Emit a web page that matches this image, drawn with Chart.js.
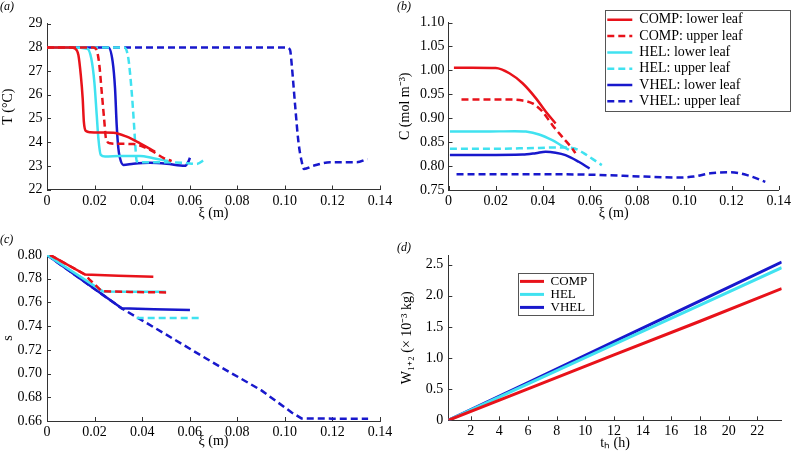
<!DOCTYPE html>
<html><head><meta charset="utf-8">
<script src="https://cdn.jsdelivr.net/npm/chart.js@4.4.1/dist/chart.umd.min.js"></script>
<style>
html,body{margin:0;padding:0;background:#fff;width:794px;height:456px;overflow:hidden}
canvas{position:absolute}
</style></head><body>
<canvas id="ca" width="397" height="225" style="left:0;top:0"></canvas>
<canvas id="cb" width="397" height="225" style="left:397px;top:0"></canvas>
<canvas id="cc" width="397" height="228" style="left:0;top:228px"></canvas>
<canvas id="cd" width="397" height="228" style="left:397px;top:228px"></canvas>
<script>
// ---------- tick values and labels ----------
const xiTicks = [0, 0.02, 0.04, 0.06, 0.08, 0.10, 0.12, 0.14];
const xiTickLabels = ['0', '0.02', '0.04', '0.06', '0.08', '0.10', '0.12', '0.14'];
const tTicks = [22, 23, 24, 25, 26, 27, 28, 29];
const tTickLabels = ['22', '23', '24', '25', '26', '27', '28', '29'];
const cTicks = [0.75, 0.80, 0.85, 0.90, 0.95, 1.00, 1.05, 1.10];
const cTickLabels = ['0.75', '0.80', '0.85', '0.90', '0.95', '1.00', '1.05', '1.10'];
const sTicks = [0.66, 0.68, 0.70, 0.72, 0.74, 0.76, 0.78, 0.80];
const sTickLabels = ['0.66', '0.68', '0.70', '0.72', '0.74', '0.76', '0.78', '0.80'];
const thTicks = [2, 4, 6, 8, 10, 12, 14, 16, 18, 20, 22];
const thTickLabels = ['2', '4', '6', '8', '10', '12', '14', '16', '18', '20', '22'];
const wTicks = [0, 0.5, 1.0, 1.5, 2.0, 2.5];
const wTickLabels = ['0', '0.5', '1.0', '1.5', '2.0', '2.5'];

// ---------- legend labels ----------
const leafLabels = ['COMP: lower leaf', 'COMP: upper leaf', 'HEL: lower leaf', 'HEL: upper leaf', 'VHEL: lower leaf', 'VHEL: upper leaf'];
const modelLabels = ['COMP', 'HEL', 'VHEL'];

// ---------- (a) temperature T vs xi ----------
const aCompLowerX = [0, 0.005, 0.010, 0.0118, 0.0132, 0.0142, 0.0150, 0.0155, 0.0164, 0.0181, 0.0230, 0.0279, 0.0335, 0.0391, 0.0454];
const aCompLowerY = [28, 28, 28, 27.95, 27.68, 26.84, 25.85, 24.86, 24.47, 24.42, 24.41, 24.40, 24.23, 23.95, 23.60];
const aCompUpperX = [0, 0.010, 0.0195, 0.0210, 0.0220, 0.0230, 0.0240, 0.0248, 0.0265, 0.0300, 0.0363, 0.0433, 0.0489, 0.0524];
const aCompUpperY = [28, 28, 28, 27.85, 27.26, 26.13, 25.00, 24.16, 23.95, 23.93, 23.92, 23.67, 23.34, 23.20];
const aHelLowerX = [0, 0.010, 0.0170, 0.0186, 0.0199, 0.0209, 0.0216, 0.0226, 0.0244, 0.0300, 0.0391, 0.0447, 0.0510];
const aHelLowerY = [28, 28, 27.95, 27.54, 26.55, 25.15, 24.16, 23.46, 23.39, 23.41, 23.42, 23.32, 23.20];
const aHelUpperX = [0, 0.015, 0.0325, 0.0342, 0.0356, 0.0366, 0.0373, 0.0377, 0.0400, 0.0500, 0.0580, 0.0629, 0.0664];
const aHelUpperY = [28, 28, 28, 27.54, 26.13, 24.72, 23.60, 23.20, 23.15, 23.15, 23.12, 23.08, 23.27];
const aVhelLowerX = [0, 0.015, 0.0258, 0.0276, 0.0286, 0.0293, 0.0300, 0.0307, 0.0321, 0.0363, 0.0433, 0.0503, 0.0580, 0.0594, 0.0601];
const aVhelLowerY = [28, 28, 28, 27.40, 26.28, 24.72, 23.74, 23.32, 23.04, 23.09, 23.13, 23.09, 23.00, 23.17, 23.34];
const aVhelUpperX = [0, 0.050, 0.1008, 0.1022, 0.1029, 0.1043, 0.1057, 0.1071, 0.1080, 0.1120, 0.1190, 0.1302, 0.1347];
const aVhelUpperY = [28, 28, 28, 27.89, 27.26, 25.57, 24.02, 23.17, 22.87, 23.00, 23.15, 23.15, 23.29];

// ---------- (b) concentration C vs xi ----------
const bCompLowerX = [0.0023, 0.010, 0.020, 0.0258, 0.0314, 0.0370, 0.0412, 0.0454];
const bCompLowerY = [1.0055, 1.0055, 1.005, 0.994, 0.973, 0.942, 0.914, 0.889];
const bCompUpperX = [0.0055, 0.015, 0.025, 0.0314, 0.0356, 0.0398, 0.0440, 0.0482, 0.0524, 0.0538];
const bCompUpperY = [0.939, 0.939, 0.939, 0.937, 0.931, 0.914, 0.886, 0.861, 0.837, 0.827];
const bHelLowerX = [0.0006, 0.015, 0.028, 0.0328, 0.0384, 0.0440, 0.0482, 0.0510];
const bHelLowerY = [0.872, 0.872, 0.873, 0.872, 0.866, 0.854, 0.842, 0.834];
const bHelUpperX = [0.0006, 0.015, 0.030, 0.0384, 0.0454, 0.0524, 0.0573, 0.0610, 0.0650];
const bHelUpperY = [0.836, 0.836, 0.837, 0.838, 0.839, 0.838, 0.827, 0.815, 0.802];
const bVhelLowerX = [0.0006, 0.015, 0.0314, 0.0370, 0.0412, 0.0454, 0.0496, 0.0552, 0.0598];
const bVhelLowerY = [0.823, 0.823, 0.824, 0.827, 0.830, 0.828, 0.823, 0.809, 0.795];
const bVhelUpperX = [0.0034, 0.030, 0.060, 0.083, 0.097, 0.104, 0.111, 0.1196, 0.1266, 0.1343];
const bVhelUpperY = [0.783, 0.783, 0.782, 0.778, 0.776, 0.778, 0.785, 0.787, 0.781, 0.767];

// ---------- (c) s vs xi ----------
const cCompLowerX = [0.0013, 0.0160, 0.0300, 0.0447];
const cCompLowerY = [0.800, 0.7835, 0.7825, 0.7816];
const cCompUpperX = [0.0013, 0.0160, 0.0178, 0.0230, 0.0350, 0.0517];
const cCompUpperY = [0.800, 0.7835, 0.7795, 0.7695, 0.7688, 0.7684];
const cHelLowerX = [0, 0.0235, 0.0350, 0.0500];
const cHelLowerY = [0.800, 0.7693, 0.7690, 0.7690];
const cHelUpperX = [0.0377, 0.0500, 0.0650];
const cHelUpperY = [0.7468, 0.7468, 0.7468];
const cVhelLowerX = [0, 0.0314, 0.0450, 0.0601];
const cVhelLowerY = [0.800, 0.7550, 0.7542, 0.7536];
const cVhelUpperX = [0, 0.0314, 0.050, 0.070, 0.090, 0.103, 0.107, 0.120, 0.135];
const cVhelUpperY = [0.800, 0.755, 0.733, 0.709, 0.686, 0.667, 0.6622, 0.6620, 0.6620];

// ---------- (d) W vs t_h ----------
const dHours = [0.44, 6, 12, 18, 23.7];
const dComp = [0, 0.505, 1.05, 1.59, 2.115];
const dHel = [0, 0.586, 1.217, 1.849, 2.45];
const dVhel = [0, 0.607, 1.262, 1.918, 2.54];

// ---------- styling ----------
const RED = '#e8121a', CYAN = '#40e2f0', BLUE = '#1818cc';
const AXIS = '#333333';
const FONT = 'Liberation Serif, Times New Roman, serif';

function series(label, xs, ys, color, dashed, width, smooth) {
  return {
    label: label,
    data: xs.map((x, i) => ({x: x, y: ys[i]})),
    showLine: true,
    borderColor: color,
    backgroundColor: color,
    borderWidth: width,
    borderDash: dashed ? [7, 4] : [],
    pointRadius: 0,
    pointHoverRadius: 0,
    tension: 0,
    cubicInterpolationMode: smooth ? 'monotone' : 'default'
  };
}

const inwardTicks = {
  id: 'inwardTicks',
  beforeDatasetsDraw(chart, args, opts) {
    const ctx = chart.ctx;
    const {left, bottom} = chart.chartArea;
    const xs = chart.scales.x, ys = chart.scales.y;
    ctx.save();
    ctx.strokeStyle = AXIS;
    ctx.lineWidth = 1;
    ctx.beginPath();
    xs.ticks.forEach(t => {
      const px = Math.round(xs.getPixelForValue(t.value)) + 0.5;
      ctx.moveTo(px, bottom); ctx.lineTo(px, bottom - 4);
    });
    ys.ticks.forEach(t => {
      const py = Math.round(ys.getPixelForValue(t.value)) + 0.5;
      ctx.moveTo(left, py); ctx.lineTo(left + 4, py);
    });
    ctx.stroke();
    ctx.restore();
  }
};

const legendFrame = {
  id: 'legendFrame',
  afterLayout(chart, args, opts) {
    const lg = chart.legend;
    if (!lg || !opts.place) return;
    const r = opts.place;
    lg.left = r[0]; lg.top = r[1]; lg.width = r[2]; lg.height = r[3];
    lg.right = r[0] + r[2]; lg.bottom = r[1] + r[3];
  },
  afterDraw(chart, args, opts) {
    if (!opts.frame) return;
    const ctx = chart.ctx, f = opts.frame;
    ctx.save();
    ctx.strokeStyle = '#555555';
    ctx.lineWidth = 1;
    ctx.strokeRect(Math.round(f[0]) + 0.5, Math.round(f[1]) + 0.5, Math.round(f[2]), Math.round(f[3]));
    ctx.restore();
  }
};

function axis(min, max, ticks, labels, title, titlePad, fitSize, isX, tickPad) {
  return {
    type: 'linear',
    min: min, max: max,
    afterBuildTicks: s => { s.ticks = ticks.map(v => ({value: v})); },
    afterFit: s => { if (isX) s.height = fitSize; else s.width = fitSize; },
    grid: {display: false, drawTicks: false},
    border: {display: true, color: AXIS, width: 1},
    ticks: {
      autoSkip: false, maxRotation: 0, minRotation: 0,
      padding: tickPad, color: '#000',
      font: {family: FONT, size: 14},
      callback: (v, i) => labels[i]
    },
    title: {
      display: true, text: title, color: '#000',
      font: {family: FONT, size: 14},
      padding: {top: titlePad, bottom: titlePad}
    }
  };
}

function legendOpts(show, size, pad, lineW) {
  return {
    display: show,
    position: 'chartArea',
    align: 'start',
    labels: {
      color: '#000',
      font: {family: FONT, size: size},
      usePointStyle: true,
      pointStyle: 'line',
      pointStyleWidth: lineW,
      padding: pad,
      generateLabels: chart => chart.data.datasets.map((d, i) => ({
        text: d.label,
        strokeStyle: d.borderColor,
        fillStyle: d.borderColor,
        lineWidth: d.borderWidth,
        lineDash: d.borderDash,
        lineCap: 'butt',
        pointStyle: 'line',
        hidden: false,
        datasetIndex: i
      }))
    }
  };
}

function makeChart(id, p) {
  return new Chart(document.getElementById(id), {
    type: 'scatter',
    data: {datasets: p.datasets},
    options: {
      responsive: false, animation: false, devicePixelRatio: 1,
      events: [],
      layout: {padding: p.padding},
      scales: {x: p.x, y: p.y},
      plugins: {
        title: {
          display: true, text: p.tag, align: 'start', color: '#000',
          font: {family: FONT, size: 12, style: 'italic', weight: 'normal'},
          padding: p.tagPad
        },
        legend: p.legend,
        tooltip: {enabled: false},
        legendFrame: {place: p.place || null, frame: p.frame || null}
      }
    },
    plugins: [inwardTicks, legendFrame]
  });
}

// (a)
makeChart('ca', {
  tag: '(a)', tagPad: {top: 0, bottom: 9.4},
  padding: {left: 0, right: 17, top: 0, bottom: 0},
  datasets: [
    series(leafLabels[0], aCompLowerX, aCompLowerY, RED, false, 2.5, true),
    series(leafLabels[1], aCompUpperX, aCompUpperY, RED, true, 2.5, true),
    series(leafLabels[2], aHelLowerX, aHelLowerY, CYAN, false, 2.5, true),
    series(leafLabels[3], aHelUpperX, aHelUpperY, CYAN, true, 2.5, true),
    series(leafLabels[4], aVhelLowerX, aVhelLowerY, BLUE, false, 2.5, true),
    series(leafLabels[5], aVhelUpperX, aVhelUpperY, BLUE, true, 2.5, true)
  ],
  x: axis(0, 0.14, xiTicks, xiTickLabels, 'ξ (m)', 3.3, 35.5, true, 3),
  y: axis(22, 29, tTicks, tTickLabels, 'T (°C)', 0, 47, false, 4.5),
  legend: legendOpts(false, 14, 2, 25)
});

// (b)
makeChart('cb', {
  tag: '(b)', tagPad: {top: 0, bottom: 8.1},
  padding: {left: 0, right: 12, top: 0, bottom: 0},
  datasets: [
    series(leafLabels[0], bCompLowerX, bCompLowerY, RED, false, 2.5, true),
    series(leafLabels[1], bCompUpperX, bCompUpperY, RED, true, 2.5, true),
    series(leafLabels[2], bHelLowerX, bHelLowerY, CYAN, false, 2.5, true),
    series(leafLabels[3], bHelUpperX, bHelUpperY, CYAN, true, 2.5, true),
    series(leafLabels[4], bVhelLowerX, bVhelLowerY, BLUE, false, 2.5, true),
    series(leafLabels[5], bVhelUpperX, bVhelUpperY, BLUE, true, 2.5, true)
  ],
  x: axis(0, 0.14, xiTicks, xiTickLabels, 'ξ (m)', 3.3, 35, true, 3),
  y: axis(0.75, 1.10, cTicks, cTickLabels, 'C (mol m⁻³)', 0, 51.5, false, 4),
  legend: legendOpts(true, 14, 2.3, 25),
  place: [208, 10.5, 185, 101],
  frame: [208, 10, 185, 101]
});

// (c)
makeChart('cc', {
  tag: '(c)', tagPad: {top: 4.8, bottom: 7.8},
  padding: {left: 0, right: 17, top: 0, bottom: 0},
  datasets: [
    series(leafLabels[0], cCompLowerX, cCompLowerY, RED, false, 2.5, false),
    series(leafLabels[1], cCompUpperX, cCompUpperY, RED, true, 2.5, false),
    series(leafLabels[2], cHelLowerX, cHelLowerY, CYAN, false, 2.5, false),
    series(leafLabels[3], cHelUpperX, cHelUpperY, CYAN, true, 2.5, false),
    series(leafLabels[4], cVhelLowerX, cVhelLowerY, BLUE, false, 2.5, false),
    series(leafLabels[5], cVhelUpperX, cVhelUpperY, BLUE, true, 2.5, false)
  ],
  x: axis(0, 0.14, xiTicks, xiTickLabels, 'ξ (m)', 5.9, 35, true, 3),
  y: axis(0.66, 0.80, sTicks, sTickLabels, 's', 0, 47, false, 5),
  legend: legendOpts(false, 14, 2, 25)
});

// (d)
makeChart('cd', {
  tag: '(d)', tagPad: {top: 12.8, bottom: 0},
  padding: {left: 0, right: 12.3, top: 0, bottom: 0},
  datasets: [
    series(modelLabels[0], dHours, dComp, RED, false, 3, false),
    series(modelLabels[1], dHours, dHel, CYAN, false, 3, false),
    series(modelLabels[2], dHours, dVhel, BLUE, false, 3, false)
  ],
  x: axis(0.44, 23.7, thTicks, thTickLabels, 'tₕ (h)', 4.3, 35.7, true, 3),
  y: axis(0, 2.65, wTicks, wTickLabels, 'W₁₊₂ (× 10⁻³ kg)', 2.3, 51.3, false, 5),
  legend: legendOpts(true, 13, 0, 24),
  place: [123, 46.9, 70, 42],
  frame: [120.7, 45.3, 75, 41.7]
});
</script>
</body></html>
